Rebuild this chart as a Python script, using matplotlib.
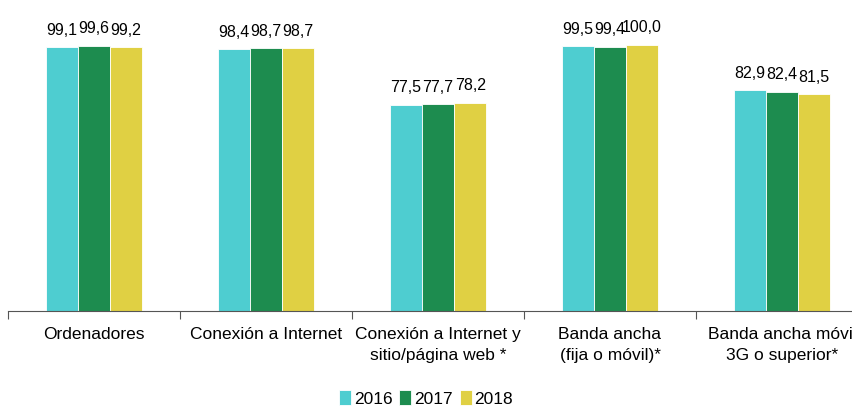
import matplotlib.pyplot as plt
import numpy as np

plt.rcParams['font.family'] = ['Liberation Sans', 'DejaVu Sans']

categorias = ["Ordenadores", "Conexión a Internet", "Conexión a Internet y\nsitio/página web *",
              "Banda ancha\n(fija o móvil)*", "Banda ancha móvil\n3G o superior*"]
anios = ["2016", "2017", "2018"]
v2016 = [99.1, 98.4, 77.5, 99.5, 82.9]
v2017 = [99.6, 98.7, 77.7, 99.4, 82.4]
v2018 = [99.2, 98.7, 78.2, 100.0, 81.5]
colores = ["#4ECDD0", "#1D8C4F", "#E0D043"]

fig = plt.figure(figsize=(8.52, 4.10), dpi=100)
ax = fig.add_axes([8/852, 98/410, 860/852, 312/410])

x = np.arange(len(categorias))
w = 0.187
for i, (vals, anio) in enumerate(zip([v2016, v2017, v2018], anios)):
    pos = x + (i - 1) * w
    bars = ax.bar(pos, vals, w, color=colores[i], edgecolor='white', linewidth=0.6, label=anio)
    for b, v in zip(bars, vals):
        ax.text(b.get_x() + b.get_width() / 2, v + 4, f"{v:.1f}".replace(".", ","),
                ha='center', va='bottom', fontsize=11.5)

ax.set_xlim(-0.5, len(categorias) - 0.5)
ax.set_ylim(0, 117.3)
for s in ['top', 'right', 'left']:
    ax.spines[s].set_visible(False)
ax.spines['bottom'].set_color('#555555')
ax.set_yticks([])
ax.set_xticks(np.arange(len(categorias) + 1) - 0.5, minor=False)
ax.set_xticklabels([])
ax.tick_params(axis='x', which='major', length=6, color='#555555')
ax.set_xticks(x, minor=True)
ax.set_xticklabels(categorias, minor=True, fontsize=12.5, linespacing=1.5)
ax.tick_params(axis='x', which='minor', length=0, pad=11)

fig.legend(loc='lower center', bbox_to_anchor=(0.5, -0.032), ncol=3, frameon=False,
           fontsize=12.5, handlelength=0.7, handleheight=0.9, handletextpad=0.15, columnspacing=0.4)

fig.savefig("out.png", dpi=100)
